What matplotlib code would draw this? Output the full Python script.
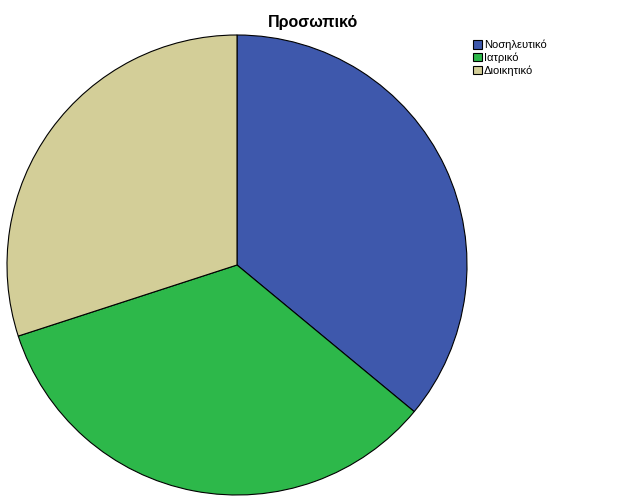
import matplotlib.pyplot as plt

plt.rcParams["font.family"] = ["Liberation Sans", "DejaVu Sans"]

# Data
labels = ["Νοσηλευτικό", "Ιατρικό", "Διοικητικό"]
values = [36, 34, 30]
colors = ["#3e58ac", "#2db84a", "#d3ce98"]

W, H = 626, 501
fig = plt.figure(figsize=(W / 100, H / 100), dpi=100)

# pie centre / radius in pixels
cx, cy, r = 237, 265, 230
ax = fig.add_axes([(cx - r) / W, (H - cy - r) / H, 2 * r / W, 2 * r / H])

wedges, _ = ax.pie(
    values,
    colors=colors,
    startangle=90,
    counterclock=False,
    radius=1,
    wedgeprops=dict(edgecolor="black", linewidth=0.8),
)
ax.set_xlim(-1.0, 1.0)
ax.set_ylim(-1.0, 1.0)
ax.set_aspect("equal")
ax.axis("off")

fig.text(313 / W, 1 - 22 / H, "Προσωπικό", ha="center", va="center",
         fontsize=11.5, fontweight="bold")

leg = fig.legend(
    wedges,
    labels,
    loc="upper left",
    bbox_to_anchor=(465 / W, 1 - 32 / H),
    frameon=False,
    fontsize=8,
    handlelength=0.8,
    handleheight=0.8,
    handletextpad=0.2,
    labelspacing=0.2,
    borderpad=0.2,
)

plt.savefig("out.png", dpi=100)
